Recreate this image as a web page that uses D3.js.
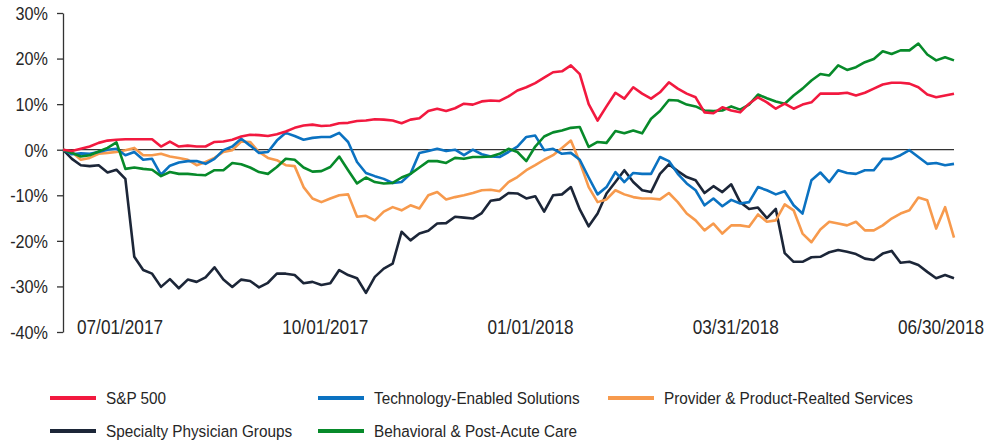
<!DOCTYPE html>
<html>
<head>
<meta charset="utf-8">
<script src="https://cdn.jsdelivr.net/npm/d3@7"></script>
<style>
  body { margin: 0; background: #fff; }
  svg text { font-family: "Liberation Sans", Arial, sans-serif; fill: #262626; }
</style>
</head>
<body>
<div id="chart"></div>
<script>
var w = 999;
var h = 442;

// series names / colours (legend order)
var seriesNames = ["S&P 500", "Technology-Enabled Solutions", "Provider & Product-Realted Services",
                   "Specialty Physician Groups", "Behavioral & Post-Acute Care"];
var seriesColors = ["#f2193f", "#0b72c1", "#f79a4d", "#1c2638", "#078a2a"];

var xLabels = ["07/01/2017", "10/01/2017", "01/01/2018", "03/31/2018", "06/30/2018"];
var yTicks = [-40, -30, -20, -10, 0, 10, 20, 30];

// cumulative return in %, sampled evenly from 07/2017 to 06/2018
var sp500 = [0, -0.3, 0.2, 0.7, 1.5, 2.0, 2.2, 2.3, 2.3, 2.3, 2.3, 0.7, 1.8, 0.7, 0.9,
  0.7, 0.7, 1.7, 1.8, 2.2, 2.9, 3.3, 3.2, 3.0, 3.4, 4.0, 4.8, 5.3, 5.5,
  5.2, 5.3, 5.8, 5.9, 6.3, 6.4, 6.7, 6.6, 6.4, 5.8, 6.6, 6.9, 8.5, 9.0,
  8.5, 9.1, 10.1, 9.9, 10.6, 10.8, 10.7, 11.7, 13.0, 13.7, 14.6, 15.8, 17.0, 17.2,
  18.5, 16.6, 10.0, 6.4, 9.5, 12.5, 11.2, 13.7, 12.3, 11.2, 12.6, 14.8, 13.4, 12.3,
  11.5, 8.2, 8.0, 9.3, 8.6, 8.2, 10.1, 11.5, 10.4, 9.0, 10.1, 9.0, 9.9, 10.4, 12.3,
  12.3, 12.3, 12.5, 11.9, 12.5, 13.4, 14.3, 14.7, 14.7, 14.5, 13.7, 12.1, 11.5, 11.9, 12.3];

var techEnabled = [0, -1.0, -0.8, -0.9, -0.5, 0, 0.2, -1.2, -0.5, -2.2, -2.0, -5.5, -3.5, -2.8, -2.5,
  -2.5, -3.1, -2.0, -0.1, 0.7, 2.4, 0.9, -0.7, -0.5, 2.0, 3.7, 3.0, 2.2, 2.6,
  2.8, 2.8, 3.7, 1.7, -2.7, -5.1, -5.8, -6.4, -7.3, -7.1, -5.3, -0.7, -0.3, 0.2,
  -0.3, 0, -1.2, 0, -1.0, -1.5, -1.6, -0.5, 0.7, 2.8, 3.1, -0.1, 0.2, -0.9,
  -0.7, -2.2, -6.1, -9.8, -8.2, -4.9, -7.1, -5.1, -5.3, -5.3, -1.6, -2.5, -5.3, -7.4,
  -8.9, -12.2, -10.7, -12.4, -11.0, -11.8, -11.5, -8.2, -8.9, -9.8, -9.1, -12.2, -14.0, -6.7, -5.0,
  -7.1, -4.5, -5.1, -5.3, -4.5, -4.5, -2.0, -2.0, -1.2, -0.1, -1.6, -3.1, -2.9, -3.4, -3.1];

var providerServices = [0, -0.5, -2.2, -1.8, -0.9, -0.7, -0.5, -0.1, 0.4, -1.2, -1.2, -0.9, -1.5, -1.8, -2.2,
  -3.4, -2.7, -1.8, -0.5, -0.1, 1.8, 1.7, -0.5, -1.8, -2.3, -3.4, -3.6, -8.2, -10.7,
  -11.5, -10.7, -10.0, -9.8, -14.7, -14.5, -15.5, -13.6, -12.6, -13.3, -12.2, -12.9, -10.0, -9.3,
  -10.9, -10.4, -10.0, -9.5, -8.9, -8.8, -9.1, -7.1, -6.0, -4.5, -3.4, -2.2, -1.2, 0.4,
  2.0, -2.7, -8.2, -11.5, -10.9, -8.9, -9.8, -10.4, -10.7, -10.7, -10.9, -9.5, -11.5, -14.0,
  -15.5, -17.7, -16.2, -18.4, -16.6, -16.6, -16.9, -14.2, -15.8, -15.5, -12.0, -13.3, -18.4, -20.3, -17.5,
  -15.8, -16.2, -16.6, -15.8, -17.7, -17.7, -16.6, -15.1, -14.0, -13.3, -10.5, -11.1, -17.3, -12.6, -19.3];

var specialtyPhysician = [0, -2.0, -3.4, -3.6, -3.4, -5.0, -4.4, -6.4, -23.5, -26.4, -27.2, -30.1, -28.4, -30.4, -28.5,
  -29.0, -28.0, -25.8, -28.5, -30.1, -28.5, -28.8, -30.2, -29.2, -27.2, -27.2, -27.5, -29.3, -29.0,
  -29.7, -29.3, -26.4, -27.5, -28.2, -31.4, -27.9, -26.1, -25.0, -18.0, -19.9, -18.4, -17.8, -16.2,
  -16.1, -14.7, -14.9, -15.1, -13.9, -11.2, -10.9, -9.5, -9.6, -10.7, -10.2, -13.6, -10.0, -9.8,
  -8.2, -13.1, -16.8, -14.0, -9.6, -7.1, -4.5, -7.1, -8.9, -9.3, -5.3, -3.2, -4.7, -6.0,
  -6.7, -9.5, -8.0, -9.3, -7.6, -11.5, -13.0, -12.7, -15.0, -13.0, -22.7, -24.6, -24.6, -23.6, -23.5,
  -22.5, -22.0, -22.4, -22.9, -23.9, -24.2, -22.8, -22.2, -24.8, -24.6, -25.3, -26.8, -28.2, -27.5, -28.2];

var behavioral = [0, -0.7, -1.5, -1.2, -0.4, 0.4, 1.6, -4.2, -3.9, -4.2, -4.4, -5.8, -4.9, -5.3, -5.3,
  -5.5, -5.6, -4.5, -4.5, -2.9, -3.2, -3.9, -4.9, -5.3, -3.8, -2.0, -2.2, -3.9, -4.8,
  -4.7, -3.8, -1.5, -4.5, -7.4, -6.1, -7.1, -7.4, -7.3, -6.1, -5.3, -3.9, -2.5, -2.5,
  -2.9, -1.8, -2.0, -1.6, -1.6, -1.5, -0.9, 0.2, -0.5, -2.5, 0.7, 2.9, 3.8, 4.2,
  4.8, 5.0, 0.6, 1.7, 1.5, 4.1, 3.6, 4.2, 3.6, 6.8, 8.5, 10.9, 10.8, 9.9,
  9.5, 8.6, 8.5, 8.6, 9.5, 8.8, 9.9, 12.1, 11.3, 10.6, 10.1, 11.9, 13.4, 15.2, 16.6,
  16.3, 18.5, 17.5, 18.1, 19.2, 19.9, 21.6, 21.0, 21.8, 21.8, 23.3, 20.9, 19.6, 20.3, 19.6];

var allSeries = [sp500, techEnabled, providerServices, specialtyPhysician, behavioral];
// drawing order (back to front)
var drawOrder = [3, 2, 1, 4, 0];

var svg = d3.select("#chart")
  .append("svg")
  .attr("width", w)
  .attr("height", h);

var plotLeft = 63, plotRight = 954, plotTop = 13, plotBottom = 332;

var x = d3.scaleLinear().domain([0, sp500.length - 1]).range([plotLeft, plotRight]);
var y = d3.scaleLinear().domain([-40, 30]).range([plotBottom, plotTop]);
var xl = d3.scalePoint().domain(xLabels).range([120, 941]);

// y axis
var yAxis = svg.append("g")
  .attr("transform", "translate(" + plotLeft + ",0)")
  .call(d3.axisLeft(y).tickValues(yTicks).tickSize(6).tickSizeOuter(0).tickFormat(function(d) { return d + "%"; }));
yAxis.select(".domain").attr("stroke", "#333").attr("stroke-width", 1.3);
yAxis.selectAll(".tick line").attr("stroke", "#333").attr("stroke-width", 1.3);
yAxis.selectAll(".tick text")
  .attr("x", 0)
  .attr("dy", "0.35em")
  .attr("transform", "translate(-15,0) scale(0.9,1)")
  .style("font-size", "18px")
  .style("fill", "#262626");

// zero line
svg.append("line")
  .attr("x1", plotLeft).attr("x2", plotRight)
  .attr("y1", y(0)).attr("y2", y(0))
  .attr("stroke", "#333")
  .attr("stroke-width", 1.2);

// x labels (condensed look)
svg.selectAll(".xlab")
  .data(xLabels)
  .enter()
  .append("text")
  .attr("class", "xlab")
  .attr("transform", function(d) { return "translate(" + xl(d) + ",334) scale(0.86,1)"; })
  .attr("text-anchor", "middle")
  .style("font-size", "20px")
  .text(function(d) { return d; });

// lines
var line = d3.line()
  .x(function(d, i) { return x(i); })
  .y(function(d) { return y(d); });

drawOrder.forEach(function(k) {
  svg.append("path")
    .datum(allSeries[k])
    .attr("fill", "none")
    .attr("stroke", seriesColors[k])
    .attr("stroke-width", 2.6)
    .attr("stroke-linejoin", "round")
    .attr("d", line);
});

// legend
var legendCols = [50, 318, 608];
var legendRows = [398, 431];
var legend = svg.selectAll(".legend")
  .data(seriesNames)
  .enter()
  .append("g")
  .attr("class", "legend")
  .attr("transform", function(d, i) {
    return "translate(" + legendCols[i % 3] + "," + legendRows[Math.floor(i / 3)] + ")";
  });

legend.append("line")
  .attr("x1", 0).attr("x2", 46)
  .attr("y1", 0).attr("y2", 0)
  .attr("stroke", function(d, i) { return seriesColors[i]; })
  .attr("stroke-width", 4);

legend.append("text")
  .attr("transform", "translate(56,0) scale(0.9,1)")
  .attr("dy", "0.35em")
  .style("font-size", "17px")
  .text(function(d) { return d; });
</script>
</body>
</html>
